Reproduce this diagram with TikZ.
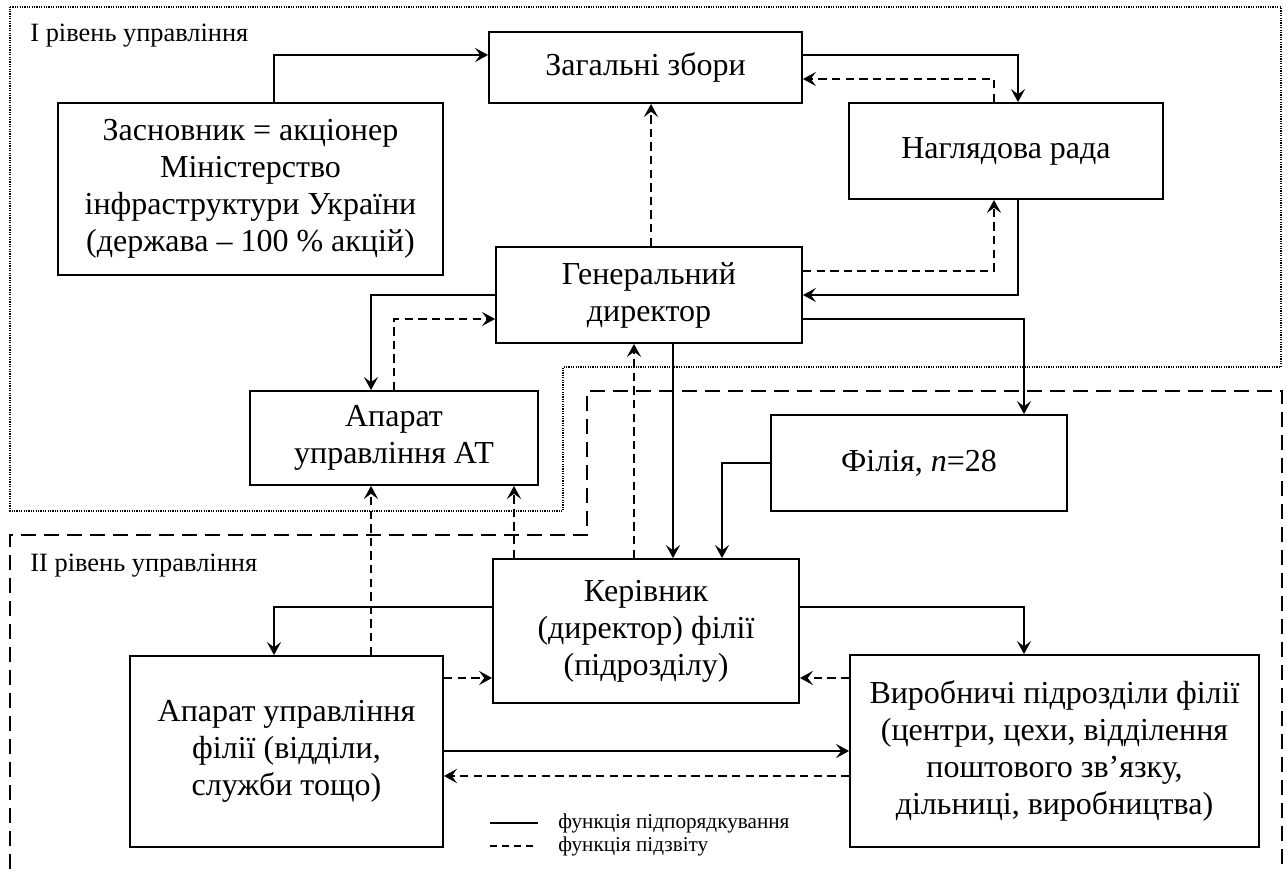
\documentclass[tikz,border=0pt]{standalone}
\usepackage{fontspec}
\setmainfont{Liberation Serif}
\usepackage{tikz}
\usetikzlibrary{arrows.meta}
\tikzset{
  unitbox/.style = {draw=black, rectangle, align=center, inner sep=0pt,
    font=\fontsize{16}{18.5}\selectfont, line width=0.9pt},
  sub/.style = {->, line width=0.95pt},
  rep/.style = {->, line width=0.95pt, dash pattern=on 4.2pt off 2.6pt},
  lvltext/.style = {anchor=base west, inner sep=0pt,
    font=\fontsize{13.2}{15}\selectfont},
  legtext/.style = {anchor=west, inner sep=0pt,
    font=\fontsize{10.6}{12}\selectfont}
}

\begin{document}
\begin{tikzpicture}[x=0.5pt, y=-0.5pt, >={Stealth[length=6.5pt, width=7pt, inset=2.6pt]}]
\useasboundingbox (0,0) rectangle (1287,870);
% levels
\draw[line width=0.6pt, dash pattern=on 0.6pt off 0.6pt]
  (10,7) -- (1281,7) -- (1281,367) -- (563,367) -- (563,511) -- (10,511) -- cycle;
\draw[line width=0.7pt, dash pattern=on 7.5pt off 4pt]
  (10,869) -- (10,535) -- (587,535) -- (587,391) -- (1282,391) -- (1282,869);
\node[lvltext] (lvl1) at (30,42) {I рівень управління};
\node[lvltext] (lvl2) at (30,572) {II рівень управління};

% units
\node[unitbox, minimum width=156.5pt, minimum height=35.5pt] (zz) at (645.5,67.5) {Загальні збори};
\node[unitbox, minimum width=157pt, minimum height=48pt] (nr) at (1006,151) {Наглядова рада};
\node[unitbox, minimum width=192.5pt, minimum height=86pt] (zas) at (250.5,189)
  {Засновник = акціонер\\Міністерство\\інфраструктури України\\(держава – 100 \% акцій)};
\node[unitbox, minimum width=153pt, minimum height=48pt] (gd) at (649,295) {Генеральний\\директор};
\node[unitbox, minimum width=144pt, minimum height=47pt] (apat) at (394,438) {Апарат\\управління АТ};
\node[unitbox, minimum width=148pt, minimum height=48pt] (fil) at (919,463) {Філія, {\itshape n}=28};
\node[unitbox, minimum width=153pt, minimum height=72pt] (ker) at (646,631)
  {Керівник\\(директор) філії\\(підрозділу)};
\node[unitbox, minimum width=156.5pt, minimum height=95.5pt] (apf) at (286.5,751.5)
  {Апарат управління\\філії (відділи,\\служби тощо)};
\node[unitbox, minimum width=204.5pt, minimum height=96pt] (vyr) at (1054.5,751)
  {Виробничі підрозділи філії\\(центри, цехи, відділення\\поштового зв’язку,\\дільниці, виробництва)};

% subordination
\draw[sub] (zas.north -| 274,0) |- (zz.west |- 0,55);
\draw[sub] (zz.east |- 0,55) -| (nr.north -| 1018,0);
\draw[sub] (nr.south -| 1018,0) |- (gd.east);
\draw[sub] (gd.east |- 0,319) -| (fil.north -| 1024,0);
\draw[sub] (gd.west) -| (apat.north -| 371,0);
\draw[sub] (gd.south -| 673,0) -- (ker.north -| 673,0);
\draw[sub] (fil.west) -| (ker.north -| 722,0);
\draw[sub] (ker.west |- 0,607) -| (apf.north -| 274,0);
\draw[sub] (ker.east |- 0,607) -| (vyr.north -| 1024,0);
\draw[sub] (apf.east |- 0,751) -- (vyr.west |- 0,751);

% reporting
\draw[rep] (nr.north -| 994,0) |- (zz.east |- 0,79);
\draw[rep] (gd.east |- 0,271) -| (nr.south -| 994,0);
\draw[rep] (gd.north -| 651,0) -- (zz.south -| 651,0);
\draw[rep] (apat.north) |- (gd.west |- 0,319);
\draw[rep] (ker.north -| 634,0) -- (gd.south -| 634,0);
\draw[rep] (ker.north -| 514,0) -- (apat.south -| 514,0);
\draw[rep] (apf.north -| 371,0) -- (apat.south -| 371,0);
\draw[rep] (apf.east |- 0,678) -- (ker.west |- 0,678);
\draw[rep] (vyr.west |- 0,678) -- (ker.east |- 0,678);
\draw[rep] (vyr.west |- 0,776) -- (apf.east |- 0,776);

% legend
\node[legtext] (lg1) at (558,823) {функція підпорядкування};
\node[legtext] (lg2) at (558,846) {функція підзвіту};
\draw[line width=0.6pt] (lg1.west -| 490,0) -- (lg1.west -| 538,0);
\draw[line width=0.6pt, dash pattern=on 3.5pt off 2.5pt] (lg2.west -| 490,0) -- (lg2.west -| 538,0);
\end{tikzpicture}
\end{document}
